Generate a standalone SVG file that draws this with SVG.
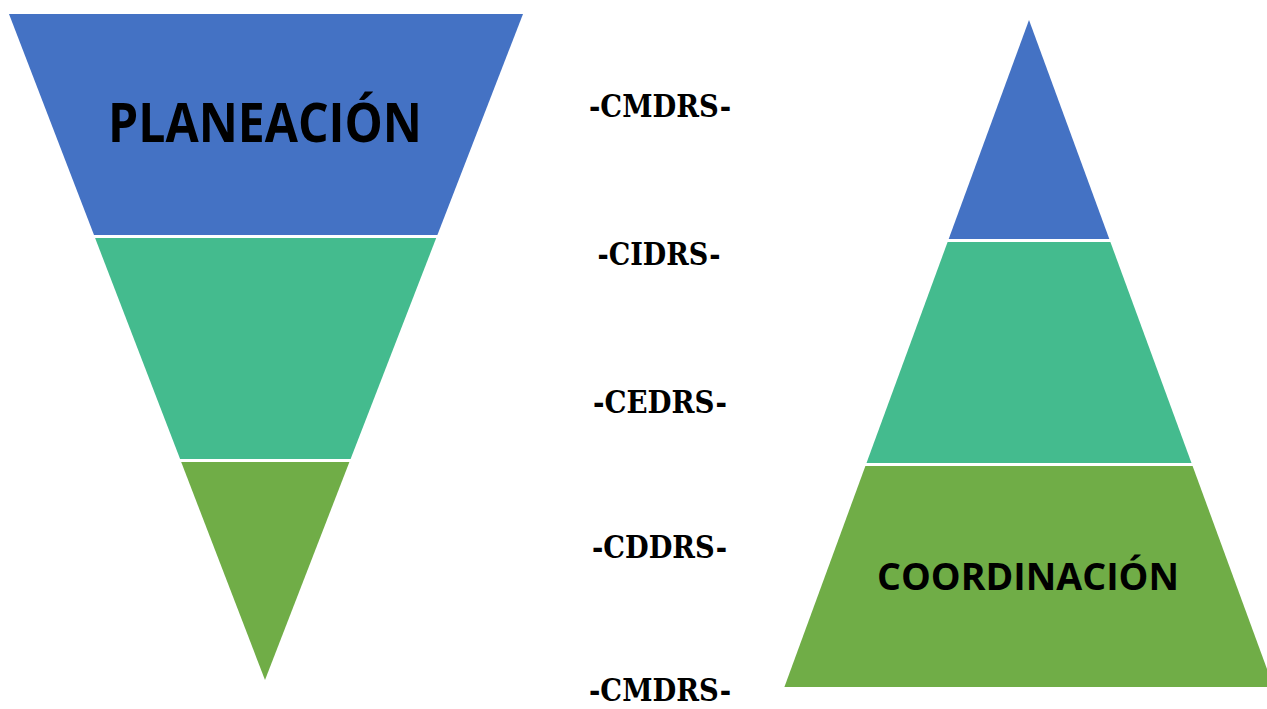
<svg xmlns="http://www.w3.org/2000/svg" width="1267" height="709" viewBox="0 0 1267 709">
  <style>
    .blue { fill: #4472C4; }
    .teal { fill: #44BB8E; }
    .green { fill: #70AD47; }
    .big { font-family: "Open Sans", "Liberation Sans", sans-serif; font-weight: 700; fill: #000; text-anchor: middle; }
    .lbl { font-family: "DejaVu Serif", "Liberation Serif", serif; font-weight: 700; font-size: 32px; fill: #000; text-anchor: middle; }
  </style>
  <rect width="1267" height="709" fill="#ffffff"/>
  <g id="funnel">
    <g id="funnel-top">
      <polygon class="blue" points="9,14 523,14 437.4,235 94,235"/>
      <text class="big" x="265" y="142" font-size="54" textLength="314" lengthAdjust="spacingAndGlyphs">PLANEACIÓN</text>
    </g>
    <g id="funnel-middle">
      <polygon class="teal" points="95.1,238 436.2,238 350.6,459 180.1,459"/>
    </g>
    <g id="funnel-bottom">
      <polygon class="green" points="181.2,462 349.4,462 265,680"/>
    </g>
  </g>
  <g id="pyramid">
    <g id="pyramid-top">
      <polygon class="blue" points="1029,20 1109.3,239 948.7,239"/>
    </g>
    <g id="pyramid-middle">
      <polygon class="teal" points="947.6,242 1110.4,242 1191.5,463 866.5,463"/>
    </g>
    <g id="pyramid-bottom">
      <polygon class="green" points="865.4,466 1192.6,466 1273.6,687 784.4,687"/>
      <text class="big" x="1028" y="590" font-size="38" textLength="302" lengthAdjust="spacingAndGlyphs">COORDINACIÓN</text>
    </g>
  </g>
  <g id="labels">
    <text class="lbl" x="660" y="117" textLength="142" lengthAdjust="spacingAndGlyphs">-CMDRS-</text>
    <text class="lbl" x="659" y="265" textLength="123" lengthAdjust="spacingAndGlyphs">-CIDRS-</text>
    <text class="lbl" x="660" y="413" textLength="134" lengthAdjust="spacingAndGlyphs">-CEDRS-</text>
    <text class="lbl" x="659.5" y="558" textLength="135" lengthAdjust="spacingAndGlyphs">-CDDRS-</text>
    <text class="lbl" x="660" y="701" textLength="142" lengthAdjust="spacingAndGlyphs">-CMDRS-</text>
  </g>
  <g id="connectors"/>
</svg>
